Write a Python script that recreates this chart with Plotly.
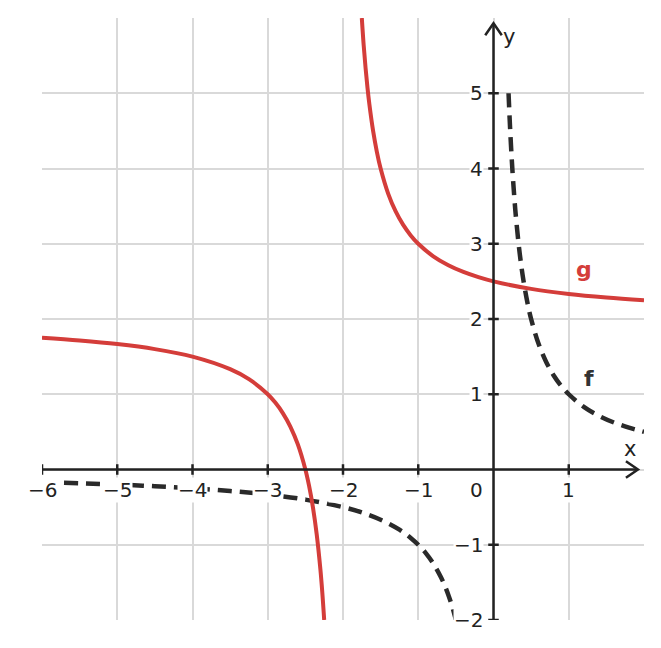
import plotly.graph_objects as go

# f(x) (dashed black), two branches
f_left_x = [-6, -5.5, -5, -4.5, -4, -3.5, -3, -2.5, -2, -1.75, -1.5, -1.25, -1.1, -1, -0.9, -0.8, -0.7, -0.65, -0.6, -0.55, -0.5]
f_left_y = [-0.167, -0.182, -0.2, -0.222, -0.25, -0.286, -0.333, -0.4, -0.5, -0.571, -0.667, -0.8, -0.909, -1, -1.111, -1.25, -1.429, -1.538, -1.667, -1.818, -2]
f_right_x = [0.2, 0.22, 0.25, 0.28, 0.3, 0.35, 0.4, 0.45, 0.5, 0.6, 0.7, 0.8, 0.9, 1.0, 1.2, 1.4, 1.6, 1.8, 2.0]
f_right_y = [5, 4.545, 4, 3.571, 3.333, 2.857, 2.5, 2.222, 2, 1.667, 1.429, 1.25, 1.111, 1, 0.833, 0.714, 0.625, 0.556, 0.5]

# g(x) (solid red), two branches
g_left_x = [-6, -5.5, -5, -4.5, -4, -3.5, -3.25, -3, -2.9, -2.8, -2.7, -2.6, -2.5, -2.45, -2.4, -2.35, -2.3, -2.275, -2.25]
g_left_y = [1.75, 1.714, 1.667, 1.6, 1.5, 1.333, 1.2, 1, 0.889, 0.75, 0.571, 0.333, 0, -0.222, -0.5, -0.857, -1.333, -1.636, -2]
g_right_x = [-1.75, -1.725, -1.7, -1.675, -1.65, -1.6, -1.55, -1.5, -1.4, -1.3, -1.2, -1.1, -1, -0.8, -0.6, -0.4, -0.2, 0, 0.5, 1, 1.5, 2]
g_right_y = [6, 5.636, 5.333, 5.077, 4.857, 4.5, 4.222, 4, 3.667, 3.429, 3.25, 3.111, 3, 2.833, 2.714, 2.625, 2.556, 2.5, 2.4, 2.333, 2.286, 2.25]

x_ticks = [-6, -5, -4, -3, -2, -1, 0, 1]
y_ticks = [-2, -1, 1, 2, 3, 4, 5]

RED = "#d43d3a"
DARK = "#2a2a2a"
AX = "#222222"
FONT = "DejaVu Sans"

fig = go.Figure()

dash_line = dict(color=DARK, width=4.5, dash="14px,8px")
red_line = dict(color=RED, width=4)

fig.add_trace(go.Scatter(x=f_left_x, y=f_left_y, mode="lines", line=dict(**dash_line, shape="spline"), hoverinfo="skip"))
fig.add_trace(go.Scatter(x=g_left_x, y=g_left_y, mode="lines", line=dict(**red_line, shape="spline"), hoverinfo="skip"))
fig.add_trace(go.Scatter(x=g_right_x, y=g_right_y, mode="lines", line=dict(**red_line, shape="spline"), hoverinfo="skip"))
fig.add_trace(go.Scatter(x=f_right_x, y=f_right_y, mode="lines", line=dict(**dash_line, shape="spline"), hoverinfo="skip"))

shapes = []
# axes lines
shapes.append(dict(type="line", xref="x", yref="y", x0=-6, y0=0, x1=1.92, y1=0, line=dict(color=AX, width=2.5), layer="above"))
shapes.append(dict(type="line", xref="x", yref="y", x0=0, y0=-2, x1=0, y1=5.93, line=dict(color=AX, width=2.5), layer="above"))
# arrow heads
shapes.append(dict(type="path", xref="x", yref="y", path="M 1.76 0.11 L 1.92 0 L 1.76 -0.11", line=dict(color=AX, width=2.5), layer="above"))
shapes.append(dict(type="path", xref="x", yref="y", path="M -0.11 5.77 L 0 5.93 L 0.11 5.77", line=dict(color=AX, width=2.5), layer="above"))
# tick marks
for t in x_ticks:
    if t != 0:
        shapes.append(dict(type="line", xref="x", yref="y", x0=t, y0=-0.07, x1=t, y1=0.07, line=dict(color=AX, width=2.5), layer="above"))
for t in y_ticks:
    shapes.append(dict(type="line", xref="x", yref="y", x0=-0.07, y0=t, x1=0.07, y1=t, line=dict(color=AX, width=2.5), layer="above"))

annotations = []
for t in x_ticks:
    if t == 0:
        annotations.append(dict(x=-0.22, y=-0.27, text="0", showarrow=False, xref="x", yref="y",
                                font=dict(family=FONT, size=20, color=AX), bgcolor="white", borderpad=0))
    else:
        annotations.append(dict(x=t, y=-0.27, text=str(t).replace("-", "\u2212"), showarrow=False, xref="x", yref="y",
                                font=dict(family=FONT, size=20, color=AX), bgcolor="white", borderpad=0))
for t in y_ticks:
    annotations.append(dict(x=-0.12, y=t, text=str(t).replace("-", "\u2212"), showarrow=False, xref="x", yref="y",
                            xanchor="right", font=dict(family=FONT, size=20, color=AX), bgcolor="white", borderpad=0))

annotations.append(dict(x=1.81, y=0.27, text="x", showarrow=False, xref="x", yref="y", font=dict(family=FONT, size=21, color=AX)))
annotations.append(dict(x=0.2, y=5.75, text="y", showarrow=False, xref="x", yref="y", font=dict(family=FONT, size=21, color=AX)))
annotations.append(dict(x=1.2, y=2.66, text="<b>g</b>", showarrow=False, xref="x", yref="y", font=dict(family=FONT, size=22, color=RED)))
annotations.append(dict(x=1.27, y=1.21, text="<b>f</b>", showarrow=False, xref="x", yref="y", font=dict(family=FONT, size=22, color="#333333")))

fig.update_layout(
    width=645, height=632,
    margin=dict(l=34, r=9, t=10, b=20),
    paper_bgcolor="white", plot_bgcolor="white",
    showlegend=False,
    shapes=shapes, annotations=annotations,
    xaxis=dict(range=[-6, 2], tickvals=x_ticks, showticklabels=False, showgrid=True,
               gridcolor="#d9d9d9", gridwidth=1.5, zeroline=False, showline=False, fixedrange=True),
    yaxis=dict(range=[-2, 6], tickvals=[-2, -1, 0, 1, 2, 3, 4, 5], showticklabels=False, showgrid=True,
               gridcolor="#d9d9d9", gridwidth=1.5, zeroline=False, showline=False, fixedrange=True),
)

fig.write_html("out.html")
